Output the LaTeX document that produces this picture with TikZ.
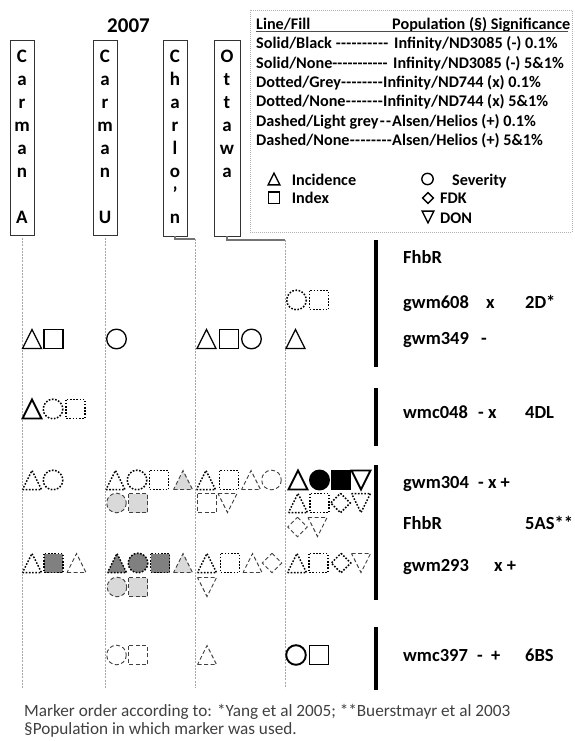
\documentclass[tikz,border=0pt]{standalone}
\usepackage{fontspec}
\setmainfont{Carlito}
\begin{document}
\begin{tikzpicture}[x=1pt,y=-1pt,
  colbox/.style={draw=black!80,line width=0.9pt,inner sep=0,minimum width=24pt},
  letter/.style={font=\fontsize{19}{19}\selectfont\bfseries,anchor=base,inner sep=0},
  conn/.style={draw=black!55,line width=1.1pt},
  vline/.style={draw=black!35,line width=0.7pt,dash pattern=on 2pt off 1.2pt},
  bar/.style={line width=4.5pt,black},
  leg/.style={font=\fontsize{16.2}{18}\selectfont\bfseries,anchor=base west,inner sep=0},
  mk/.style={font=\fontsize{18.5}{20}\selectfont\bfseries,anchor=base west,inner sep=0},
  foot/.style={font=\fontsize{17.2}{19}\selectfont,text=black!75,anchor=base west,inner sep=0},
  sol/.style={draw=black,line width=1.3pt},
  solb/.style={draw=black,line width=1.9pt},
  dot/.style={draw=black,line width=1.5pt,dash pattern=on 1.6pt off 1.6pt},
  dsh/.style={draw=black!75,line width=0.9pt,dash pattern=on 4pt off 2.5pt},
  dkg/.style={fill=black!50},
  ltg/.style={fill=black!15},
  blk/.style={fill=black},
  tri/.pic={\path[pic actions] (-9.5,9.5) -- (9.5,9.5) -- (0,-9.5) -- cycle;},
  dtri/.pic={\path[pic actions] (-9.5,-9.5) -- (9.5,-9.5) -- (0,9.5) -- cycle;},
  sq/.pic={\path[pic actions] (-9.5,-9.5) rectangle (9.5,9.5);},
  circ/.pic={\path[pic actions] (0,0) circle (9.8);},
  dia/.pic={\path[pic actions] (0,-9.7) -- (9.7,0) -- (0,9.7) -- (-9.7,0) -- cycle;}
]
\useasboundingbox (0,0) rectangle (574,741);

% title
\node[font=\fontsize{21}{22}\selectfont\bfseries,anchor=base,inner sep=0] (title) at (128.5,33) {2007};

% column boxes
\node[colbox,minimum height=195pt] (cA) at (22,137.5) {};
\node[colbox,minimum height=195pt] (cU) at (105,137.5) {};
\node[colbox,minimum height=196pt] (cC) at (175,138) {};
\node[colbox,minimum width=26pt,minimum height=196pt] (cO) at (227,138) {};
\foreach \l [count=\i] in {C,a,r,m,a,n,{},A}
  \node[letter] (lA\i) at (22,{63+22.86*(\i-1)}) {\l};
\foreach \l [count=\i] in {C,a,r,m,a,n,{},U}
  \node[letter] (lU\i) at (105,{63+22.86*(\i-1)}) {\l};
\foreach \l [count=\i] in {C,h,a,r,l,o,’,n}
  \node[letter] (lC\i) at (175,{63+22.86*(\i-1)}) {\l};
\foreach \l [count=\i] in {O,t,t,a,w,a}
  \node[letter] (lO\i) at (227,{63+22.86*(\i-1)}) {\l};

% connectors and guide lines
\coordinate (vA) at (22,238);  \coordinate (vAb) at (22,688);
\coordinate (vU) at (105,238); \coordinate (vUb) at (105,688);
\coordinate (vC) at (195,239); \coordinate (vCb) at (195,688);
\coordinate (vO) at (285,240); \coordinate (vOb) at (285,688);
\draw[conn] (cC.south) |- (vC);
\draw[conn] (cO.south) |- (vO);
\draw[vline] (vA) -- (vAb);
\draw[vline] (vU) -- (vUb);
\draw[vline] (vC) -- (vCb);
\draw[vline] (vO) -- (vOb);

% legend
\draw[black!30,line width=0.6pt,dash pattern=on 1pt off 1pt] (250,10) rectangle (572,232);
\node[leg] (h1) at (256,29.3) {Line/Fill};
\node[leg] (h2) at (392,29.3) {Population (§) Significance};
\draw[black!70,line width=0.8pt] (256,31.8) -- (568,31.8);
\node[leg] (l1) at (256,48.7) {\hbox to 136pt{Solid/Black\ \xleaders\hbox{-}\hfill\ }};
\node[leg] (r1) at (394,48.7) {Infinity/ND3085 (-) 0.1\%};
\node[leg] (l2) at (256,68.3) {\hbox to 135pt{Solid/None\xleaders\hbox{-}\hfill\ }};
\node[leg] (r2) at (393,68.3) {Infinity/ND3085 (-) 5\&1\%};
\node[leg] (l3) at (256,87.3) {\hbox to 127pt{Dotted/Grey\xleaders\hbox{-}\hfill}};
\node[leg] (r3) at (383,87.3) {Infinity/ND744 (x) 0.1\%};
\node[leg] (l4) at (256,106.7) {\hbox to 127pt{Dotted/None\xleaders\hbox{-}\hfill}};
\node[leg] (r4) at (383,106.7) {Infinity/ND744 (x) 5\&1\%};
\node[leg] (l5) at (256,126.7) {\hbox to 136pt{Dashed/Light grey\xleaders\hbox{-}\hfill}};
\node[leg] (r5) at (392,126.7) {Alsen/Helios (+) 0.1\%};
\node[leg] (l6) at (256,145) {\hbox to 136pt{Dashed/None\xleaders\hbox{-}\hfill}};
\node[leg] (r6) at (392,145) {Alsen/Helios (+) 5\&1\%};

\pic[sol,line width=1.4pt,scale=0.62] at (274,179) {tri};
\pic[sol,line width=1.4pt,scale=0.6] at (274,197.5) {sq};
\pic[sol,line width=1.4pt,scale=0.58] at (427.5,179) {circ};
\pic[sol,line width=1.4pt,scale=0.55] at (428,198) {dia};
\pic[sol,line width=1.4pt,scale=0.62] at (428,217) {dtri};
\node[leg] (tI) at (291.7,185) {Incidence};
\node[leg] (tX) at (291.7,203) {Index};
\node[leg] (tS) at (452,185) {Severity};
\node[leg] (tF) at (440,203) {FDK};
\node[leg] (tD) at (440,223) {DON};

% chromosome bars
\draw[bar] (376,240) -- (376,367);
\draw[bar] (376,388) -- (376,446);
\draw[bar] (376,465) -- (376,600);
\draw[bar] (376,627) -- (376,690);

% marker labels
\node[mk] (m1) at (403,263) {FhbR};
\node[mk] (m2) at (403,308) {gwm608};
\node[mk] (m2s) at (486,308) {x};
\node[mk] (c2) at (525,308) {2D*};
\node[mk] (m3) at (403,344) {gwm349};
\node[mk] (m3s) at (481,344) {-};
\node[mk] (m4) at (403,418) {wmc048};
\node[mk] (m4s) at (478,418) {- x};
\node[mk] (c4) at (525,418) {4DL};
\node[mk] (m5) at (403,488) {gwm304};
\node[mk] (m5s) at (478,488) {- x +};
\node[mk] (m6) at (403,529) {FhbR};
\node[mk] (c6) at (525,529) {5AS**};
\node[mk] (m7) at (403,571) {gwm293};
\node[mk] (m7s) at (494,571) {x +};
\node[mk] (m8) at (403,661) {wmc397};
\node[mk] (m8s) at (477,661) {- \ +};
\node[mk] (c8) at (525,661) {6BS};

% symbols: gwm608 row
\pic[dot] at (296.5,300) {circ};
\pic[dot] at (319,300) {sq};
% gwm349 row
\pic[sol] at (32,339) {tri};
\pic[sol] at (53.5,339) {sq};
\pic[sol] at (116.5,339) {circ};
\pic[sol] at (206.5,339) {tri};
\pic[sol] at (229,339) {sq};
\pic[sol] at (251.5,339) {circ};
\pic[sol] at (295.5,339) {tri};
% wmc048 row
\pic[solb] at (32,409) {tri};
\pic[dot] at (53,409) {circ};
\pic[dot] at (75.5,409) {sq};
% gwm304 row
\pic[dot] at (32,480) {tri};
\pic[dot] at (53,480) {circ};
\pic[dot] at (115.5,480) {tri};
\pic[dot] at (137,480) {circ};
\pic[dot] at (159,480) {sq};
\pic[dsh,ltg] at (183,480) {tri};
\pic[dot] at (206,480) {tri};
\pic[dot] at (229,480) {sq};
\pic[dsh] at (251,480) {tri};
\pic[dsh] at (271.5,480) {circ};
\pic[solb] at (298,480) {tri};
\pic[sol,blk] at (319.5,480) {circ};
\pic[sol,blk] at (341,480) {sq};
\pic[solb] at (361,480) {dtri};
% second line
\pic[dsh,ltg] at (116.5,503) {circ};
\pic[dsh,ltg] at (138,503) {sq};
\pic[dsh] at (207,503) {sq};
\pic[dsh] at (227.5,503) {dtri};
\pic[dot] at (298,503) {tri};
\pic[dot] at (319.5,503) {sq};
\pic[dot] at (340.5,503) {dia};
\pic[dot] at (361,503) {dtri};
% third line
\pic[dsh] at (297.5,527) {dia};
\pic[dsh] at (317.5,527) {dtri};
% gwm293 row
\pic[dot] at (32,563) {tri};
\pic[dot,dkg] at (53.5,563) {sq};
\pic[dsh] at (76.5,563) {tri};
\pic[dot,dkg] at (117,563) {tri};
\pic[dot,dkg] at (138,563) {circ};
\pic[dot,dkg] at (160,563) {sq};
\pic[dsh,ltg] at (183,563) {tri};
\pic[dot] at (207,563) {tri};
\pic[dot] at (230,563) {sq};
\pic[dsh] at (252.5,563) {tri};
\pic[dsh] at (272,563) {dia};
\pic[dot] at (297,563) {tri};
\pic[dot] at (318.5,563) {sq};
\pic[dot] at (341,563) {dia};
\pic[dsh] at (361,563) {dtri};
% second line
\pic[dsh,ltg] at (117,587) {circ};
\pic[dsh,ltg] at (138,587) {sq};
\pic[dsh] at (207,587) {dtri};
% wmc397 row
\pic[dsh] at (116.5,655) {circ};
\pic[dsh] at (138,655) {sq};
\pic[dsh] at (207,655) {tri};
\pic[solb] at (296,655) {circ};
\pic[sol] at (319,655) {sq};

% footnote
\node[foot] (f1) at (24,716.5) {Marker order according to: *Yang et al 2005; **Buerstmayr et al 2003};
\node[foot] (f2) at (24,734.5) {§Population in which marker was used.};
\end{tikzpicture}
\end{document}
